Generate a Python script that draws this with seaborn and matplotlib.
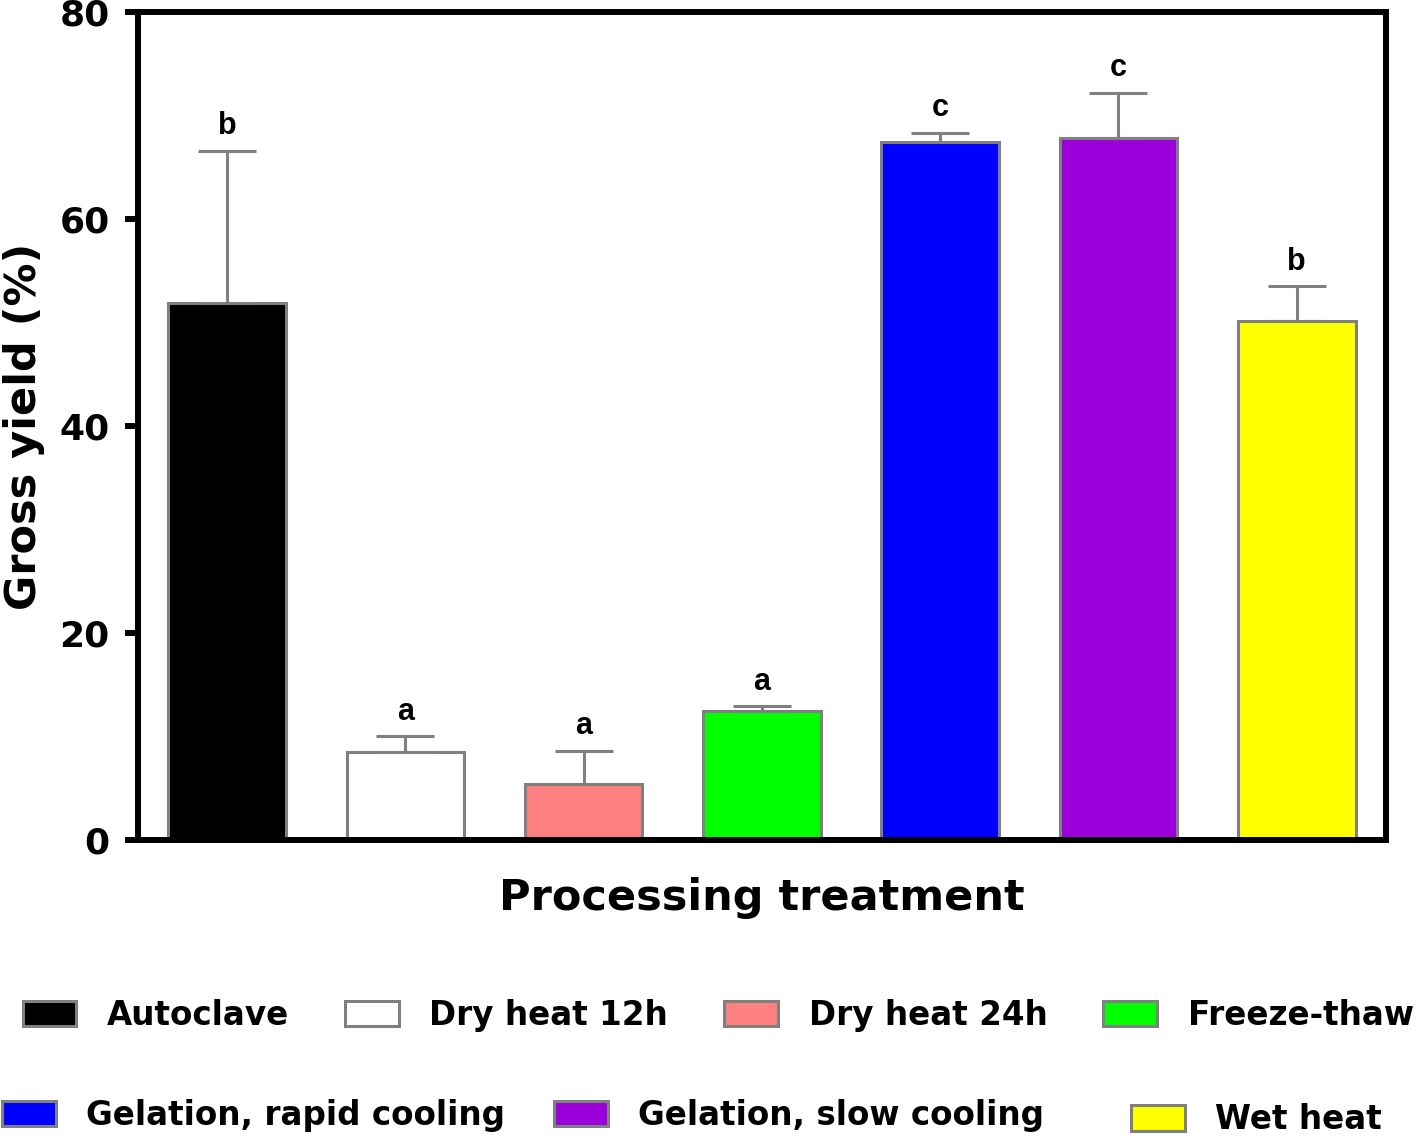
import matplotlib
matplotlib.use('Agg')
import numpy as np
import pandas as pd
import matplotlib.pyplot as plt
import seaborn as sns
from matplotlib.patches import Patch

treatments = ['Autoclave', 'Dry heat 12h', 'Dry heat 24h', 'Freeze-thaw',
              'Gelation, rapid cooling', 'Gelation, slow cooling', 'Wet heat']
gross_yield = [51.9, 8.5, 5.4, 12.5, 67.4, 67.8, 50.1]
yield_sd = [14.7, 1.5, 3.2, 0.4, 0.9, 4.4, 3.4]
letters = ['b', 'a', 'a', 'a', 'c', 'c', 'b']
colors = ['#000000', '#FFFFFF', '#FF8080', '#00FF00', '#0000FF', '#9B00DB', '#FFFF00']

sns.set_style('white')
plt.rcParams['font.family'] = ['DejaVu Sans']
plt.rcParams['font.weight'] = 'bold'
plt.rcParams['axes.labelweight'] = 'bold'
plt.rcParams['text.color'] = 'black'
plt.rcParams['axes.labelcolor'] = 'black'
plt.rcParams['ytick.color'] = 'black'

df = pd.DataFrame({'treatment': treatments, 'gross_yield': gross_yield})

fig = plt.figure(figsize=(14.18, 11.38), dpi=100)
ax = fig.add_axes([0.0973, 0.2619, 0.8800, 0.7276])

sns.barplot(data=df, x='treatment', y='gross_yield', hue='treatment',
            palette=colors, legend=False, width=0.66, saturation=1,
            edgecolor='#808080', linewidth=2.2, ax=ax)

# upper error bars only
xpos = np.arange(len(treatments))
ax.errorbar(xpos, gross_yield, yerr=[np.zeros(len(xpos)), yield_sd], fmt='none',
            ecolor='#808080', elinewidth=2.2, capsize=21, capthick=2.2, zorder=1)

# significance letters
for i, (m, s, lab) in enumerate(zip(gross_yield, yield_sd, letters)):
    ax.annotate(lab, xy=(i, m + s), xytext=(0, 7), textcoords='offset points',
                ha='center', va='bottom', fontsize=22, fontweight='bold',
                family='Liberation Sans')

ax.set_xlim(-0.5, 6.5)
ax.set_ylim(0, 80)
ax.set_yticks([0, 20, 40, 60, 80])
ax.set_xticks([])
ax.tick_params(axis='y', left=True, length=9.4, width=4.3, pad=11,
               labelsize=26, direction='out')
for sp in ax.spines.values():
    sp.set_visible(True)
    sp.set_linewidth(4.3)
    sp.set_color('black')

ax.set_xlabel('Processing treatment', fontsize=31, labelpad=27)
ax.set_ylabel('Gross yield (%)', fontsize=31)
ax.yaxis.set_label_coords(-0.0745, 0.5)

handles = [Patch(facecolor=c, edgecolor='#808080', linewidth=2.2) for c in colors]
leg_kw = dict(frameon=False, fontsize=23.5, handlelength=1.64, handleheight=0.82,
              handletextpad=0.94, borderpad=0, borderaxespad=0, loc='center left')
fig.legend(handles[:4], treatments[:4], ncol=4, columnspacing=1.72,
           bbox_to_anchor=(0.016, 0.108), **leg_kw)
fig.legend(handles[4:6], treatments[4:6], ncol=2, columnspacing=1.5,
           bbox_to_anchor=(0.0014, 0.020), **leg_kw)
fig.legend(handles[6:], treatments[6:], ncol=1,
           bbox_to_anchor=(0.7976, 0.016), **leg_kw)

fig.savefig('out.png', dpi=100)
